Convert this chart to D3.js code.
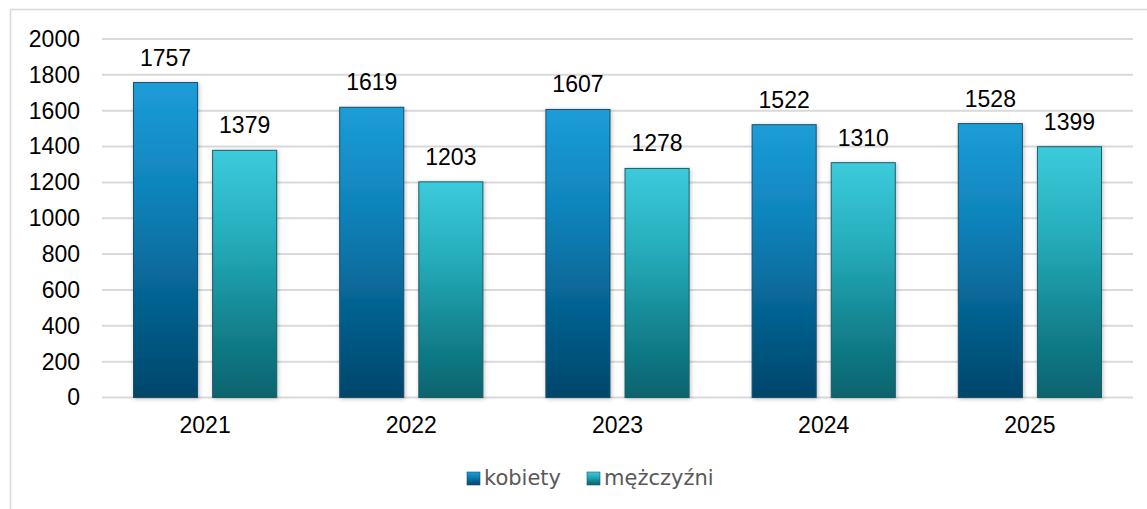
<!DOCTYPE html>
<html><head><meta charset="utf-8">
<script src="https://cdn.jsdelivr.net/npm/d3@7/dist/d3.min.js"></script>
<style>body{margin:0;background:#fff;} svg{display:block;}</style>
</head><body>
<script>
const categories = ["2021","2022","2023","2024","2025"];
const seriesNames = ["kobiety","mężczyźni"];
const kobiety = [1757,1619,1607,1522,1528];
const mezczyzni = [1379,1203,1278,1310,1399];
const yTicks = [0,200,400,600,800,1000,1200,1400,1600,1800,2000];

const W=1147,H=509;
const FONT="Liberation Sans, Arial, sans-serif";
const svg=d3.select("body").append("svg").attr("width",W).attr("height",H);
const defs=svg.append("defs");
function grad(id,stops){
  const g=defs.append("linearGradient").attr("id",id).attr("x1",0).attr("y1",0).attr("x2",0).attr("y2",1);
  stops.forEach(s=>g.append("stop").attr("offset",s[0]).attr("stop-color",s[1]));
}
grad("gK",[["0%","#1c9dd8"],["35%","#0f83bb"],["70%","#05618f"],["100%","#02466a"]]);
grad("gM",[["0%","#3ccbdc"],["35%","#26adbb"],["70%","#138490"],["100%","#0b636d"]]);
const f=defs.append("filter").attr("id","sh").attr("x","-20%").attr("y","-10%").attr("width","140%").attr("height","120%");
f.append("feDropShadow").attr("dx",1).attr("dy",1).attr("stdDeviation",2).attr("flood-color","#000").attr("flood-opacity",0.25);

// frame
svg.append("path").attr("d","M10.5,509 V9.5 H1147").attr("fill","none").attr("stroke","#d9d9d9").attr("stroke-width",1.5);

const x0=d3.scaleBand().domain(categories).range([102,1133]).paddingInner(0).paddingOuter(0);
const y=d3.scaleLinear().domain([0,2000]).range([397.5,39]);
const x1=d3.scaleBand().domain(seriesNames).range([31.5,x0.bandwidth()-31.5]).paddingInner(0.19);

// gridlines
svg.append("g").selectAll("line").data(yTicks).join("line")
  .attr("x1",102).attr("x2",1133).attr("y1",d=>y(d)).attr("y2",d=>y(d))
  .attr("stroke","#d9d9d9").attr("stroke-width",2);

// y axis
const ya=svg.append("g").attr("transform","translate(80,0)")
  .call(d3.axisLeft(y).tickValues(yTicks).tickFormat(d3.format("d")).tickSize(0).tickPadding(0));
ya.select(".domain").remove();
ya.selectAll("text").attr("font-family",FONT).attr("font-size",23).attr("fill","#000");

// x axis
const xa=svg.append("g").attr("transform","translate(0,410)")
  .call(d3.axisBottom(x0).tickSize(0).tickPadding(0));
xa.select(".domain").remove();
xa.selectAll("text").attr("font-family",FONT).attr("font-size",23).attr("fill","#000").attr("dy","0.71em").attr("y",7);

const data=categories.map((c,i)=>({c,vals:[{s:"kobiety",v:kobiety[i],g:"url(#gK)",st:"#1a4f6a"},{s:"mężczyźni",v:mezczyzni[i],g:"url(#gM)",st:"#1d5d66"}]}));
const grp=svg.append("g").selectAll("g").data(data).join("g").attr("transform",d=>`translate(${x0(d.c)},0)`);
grp.selectAll("rect").data(d=>d.vals).join("rect")
  .attr("x",d=>x1(d.s)).attr("width",x1.bandwidth())
  .attr("y",d=>y(d.v)).attr("height",d=>y(0)-y(d.v))
  .attr("fill",d=>d.g).attr("stroke",d=>d.st).attr("stroke-width",1).attr("filter","url(#sh)");
grp.selectAll("text").data(d=>d.vals).join("text")
  .attr("x",d=>x1(d.s)+x1.bandwidth()/2).attr("y",d=>y(d.v)-17)
  .attr("text-anchor","middle").attr("font-family",FONT).attr("font-size",23).attr("fill","#000")
  .text(d=>d.v);

// legend
const leg=[{n:"kobiety",g:"url(#gK)",x:467,st:"#1a4f6a"},{n:"mężczyźni",g:"url(#gM)",x:587,st:"#1d5d66"}];
const lg=svg.append("g");
lg.selectAll("rect").data(leg).join("rect").attr("x",d=>d.x).attr("y",472).attr("width",13).attr("height",13)
  .attr("fill",d=>d.g).attr("stroke",d=>d.st).attr("stroke-width",0.6);
lg.selectAll("text").data(leg).join("text").attr("x",d=>d.x+17).attr("y",485)
  .attr("font-family","DejaVu Sans, sans-serif").attr("font-size",21).attr("fill","#595959").text(d=>d.n);
</script>
</body></html>
